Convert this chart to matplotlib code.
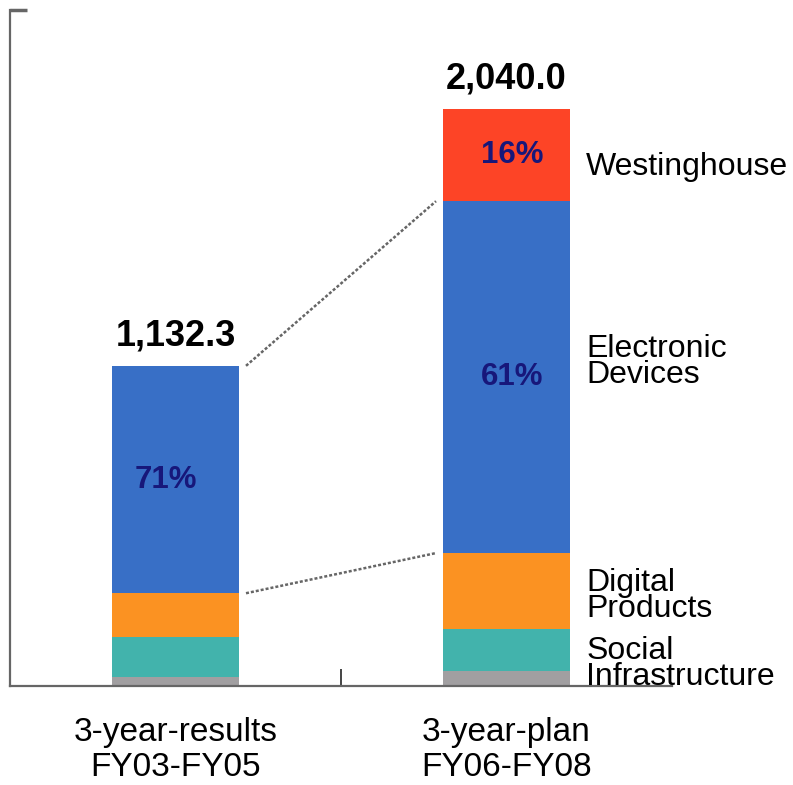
import numpy as np
import matplotlib
matplotlib.use("Agg")
from matplotlib import pyplot as plt

plt.rcParams['font.family'] = ['Liberation Sans', 'DejaVu Sans']

# sales by segment, billion yen
periods = ["3-year-results\nFY03-FY05", "3-year-plan\nFY06-FY08"]
totals = [1132.3, 2040.0]
segments = ["Social\nInfrastructure", "Digital\nProducts", "Electronic\nDevices", "Westinghouse"]
gray_part = [32, 54]
social = [142, 147]
digital = [154, 269]
electronic = [804, 1244]
westinghouse = [0, 326]

colors = ["#a19fa1", "#42b3ac", "#fb9222", "#386fc6", "#fd4426"]
pct_color = "#17177a"

fig = plt.figure(figsize=(7.93, 7.85), dpi=100)
ax = fig.add_axes([10 / 793, 99 / 785, 662 / 793, 676 / 785])

x = np.arange(len(periods))
width = 0.386
stack = [gray_part, social, digital, electronic, westinghouse]
bottom = np.zeros(len(periods))
bottoms = []
for vals, c in zip(stack, colors):
    vals = np.array(vals, dtype=float)
    ax.bar(x, vals, width, bottom=bottom, color=c, linewidth=0)
    bottoms.append(bottom.copy())
    bottom += vals

ymax = 2390
ax.set_xlim(-0.5, 1.5)
ax.set_ylim(0, ymax)

# totals above the bars
for xi, t in zip(x, totals):
    ax.annotate(f"{t:,.1f}", (xi, t), xytext=(0, 9), textcoords="offset points",
                ha="center", va="bottom", fontsize=26, fontweight="bold")

# share labels inside the big segments
for i, idx in [(0, 3), (1, 3), (1, 4)]:
    v = stack[idx][i]
    mid = bottoms[idx][i] + v / 2
    dx = -7 if i == 0 else 4
    ax.annotate(f"{round(v / totals[i] * 100)}%", (x[i], mid), xytext=(dx, 0),
                textcoords="offset points", ha="center", va="center",
                fontsize=22.5, fontweight="bold", color=pct_color)

# dotted connectors between the two bars
e_top = [bottoms[3][0] + electronic[0], bottoms[3][1] + electronic[1]]
d_top = [bottoms[2][0] + digital[0], bottoms[2][1] + digital[1]]
for ys in (e_top, d_top):
    ax.plot([x[0] + width / 2 + 0.02, x[1] - width / 2 - 0.02], ys, color="#666666",
            linestyle=(0, (1.2, 0.8)), linewidth=1.8)

# segment names on the right
label_y = [78, 318, 1146, 1835]
for name, ly in zip(segments, label_y):
    ax.text(1.2405, ly, name, ha="left", va="center", fontsize=23, linespacing=0.85)

# period names under the axis
for xi, p in zip(x, periods):
    ax.annotate(p, (xi, 0), xycoords=("data", "axes fraction"), xytext=(0, -22),
                textcoords="offset points", ha="center", va="top", fontsize=24,
                linespacing=1.18)

for s in ["top", "right"]:
    ax.spines[s].set_visible(False)
for s in ["left", "bottom"]:
    ax.spines[s].set_color("#666666")
    ax.spines[s].set_linewidth(1.6)

ax.set_xticks([0.5])
ax.set_xticklabels([])
ax.tick_params(axis="x", direction="in", length=12, width=1.4, color="#444444")
ax.set_yticks([ymax])
ax.set_yticklabels([])
ax.tick_params(axis="y", direction="in", length=12, width=2.5, color="#666666")

fig.savefig("out.png", dpi=100)
